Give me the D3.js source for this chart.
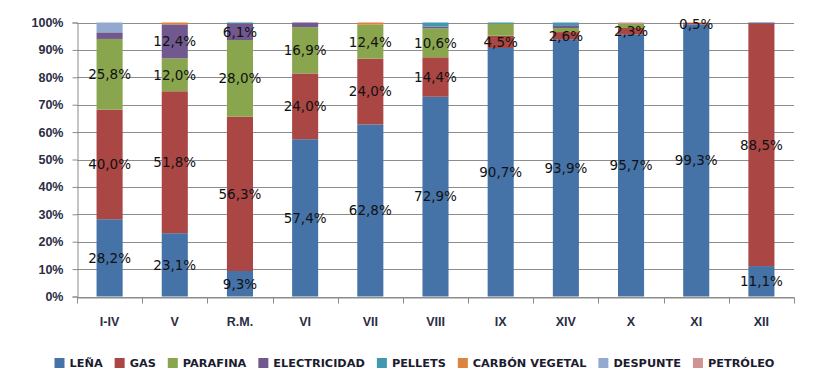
<!DOCTYPE html>
<html>
<head>
<meta charset="utf-8">
<script src="https://cdn.jsdelivr.net/npm/d3@7"></script>
<style>
  body { margin: 0; background: #fff; }
  svg { display: block; }
</style>
</head>
<body>
<div class="canvas"></div>
<script>
// data (percent of households by main heating fuel, per region)
const categories = ['I-IV', 'V', 'R.M.', 'VI', 'VII', 'VIII', 'IX', 'XIV', 'X', 'XI', 'XII'];
const lena         = [28.2, 23.1, 9.3, 57.4, 62.8, 72.9, 90.7, 93.9, 95.7, 99.3, 11.1];
const gas          = [40.0, 51.8, 56.3, 24.0, 24.0, 14.4, 4.5, 2.6, 2.3, 0.5, 88.5];
const parafina     = [25.8, 12.0, 28.0, 16.9, 12.4, 10.6, 4.4, 1.5, 1.5, 0, 0];
const electricidad = [2.4, 12.4, 6.1, 1.7, 0, 0.6, 0, 1.0, 0, 0, 0.4];
const pellets      = [0, 0, 0.3, 0, 0, 1.5, 0.4, 1.0, 0, 0, 0];
const carbon       = [0, 0.7, 0, 0, 0.8, 0, 0, 0, 0, 0.2, 0];
const despunte     = [3.6, 0, 0, 0, 0, 0, 0, 0, 0, 0, 0];
const petroleo     = [0, 0, 0, 0, 0, 0, 0, 0, 0.5, 0, 0];

const seriesNames = ['LEÑA', 'GAS', 'PARAFINA', 'ELECTRICIDAD', 'PELLETS', 'CARBÓN VEGETAL', 'DESPUNTE', 'PETRÓLEO'];
const seriesValues = [lena, gas, parafina, electricidad, pellets, carbon, despunte, petroleo];
const yTicks = [0, 10, 20, 30, 40, 50, 60, 70, 80, 90, 100];

const colors = ['#4572A7', '#AA4643', '#89A54E', '#71588F', '#4198AF', '#DB843D', '#93A9CF', '#D19392'];

const width = 822, height = 383;
const plot = {left: 77, right: 794, top: 22.5, bottom: 296.5};

const svg = d3.select('.canvas')
    .append('svg')
    .attr('width', width)
    .attr('height', height);

// rows for the stack
const rows = categories.map((c, i) => {
    const row = {cat: c};
    seriesNames.forEach((s, j) => row[s] = seriesValues[j][i]);
    return row;
});

const stack = d3.stack().keys(seriesNames);
const stacked = stack(rows);

const x = d3.scaleBand()
    .domain(categories)
    .range([plot.left, plot.right])
    .paddingInner(0.6)
    .paddingOuter(0.3);

const y = d3.scaleLinear()
    .domain([0, 100])
    .range([plot.bottom, plot.top]);

// gridlines
svg.append('g')
    .selectAll('line')
    .data(yTicks)
    .enter().append('line')
    .attr('x1', plot.left)
    .attr('x2', plot.right)
    .attr('y1', d => Math.round(y(d)) + 0.5)
    .attr('y2', d => Math.round(y(d)) + 0.5)
    .attr('stroke', '#8c8c8c')
    .attr('stroke-width', 1);

// bars
const groups = svg.append('g')
    .selectAll('g')
    .data(stacked)
    .enter().append('g')
    .attr('fill', (d, i) => colors[i]);

groups.selectAll('rect')
    .data(d => d)
    .enter().append('rect')
    .attr('x', d => x(d.data.cat))
    .attr('width', x.bandwidth())
    .attr('y', d => y(d[1]))
    .attr('height', d => Math.max(0, y(d[0]) - y(d[1])));

// y axis
const yAxis = d3.axisLeft(y)
    .tickValues(yTicks)
    .tickSize(5)
    .tickFormat(d => d + '%');

const yg = svg.append('g')
    .attr('transform', `translate(${plot.left + 0.5},0)`)
    .call(yAxis);

// x axis
const xAxis = d3.axisBottom(x).tickSize(0).tickPadding(20);
const xg = svg.append('g')
    .attr('transform', `translate(0,${Math.round(plot.bottom) + 0.5})`)
    .call(xAxis);

// category separator ticks
xg.selectAll('.sep')
    .data(d3.range(categories.length + 1))
    .enter().append('line')
    .attr('class', 'sep')
    .attr('x1', i => Math.round(plot.left + i * (plot.right - plot.left) / categories.length) + 0.5)
    .attr('x2', i => Math.round(plot.left + i * (plot.right - plot.left) / categories.length) + 0.5)
    .attr('y1', 0)
    .attr('y2', 6)
    .attr('stroke', '#8c8c8c');

[yg, xg].forEach(g => {
    g.select('.domain').attr('stroke', '#8c8c8c');
    g.selectAll('.tick line').attr('stroke', '#8c8c8c');
    g.selectAll('text')
        .attr('fill', '#2a2d45')
        .style('font-family', '"Liberation Sans", Arial, sans-serif')
        .style('font-weight', 'bold')
        .style('font-size', '12.5px');
});
yg.selectAll('text').attr('x', -14);

// data labels: leña and gas always, parafina/electricidad when large enough
const fmt = v => v.toFixed(1).replace('.', ',') + '%';
const labelled = ['LEÑA', 'GAS', 'PARAFINA', 'ELECTRICIDAD'];

stacked.filter(s => labelled.includes(s.key)).forEach(s => {
    svg.append('g')
        .selectAll('text')
        .data(s.filter(d => {
            const v = d[1] - d[0];
            if (s.key === 'LEÑA' || s.key === 'GAS') return v > 0;
            return v >= 5;
        }))
        .enter().append('text')
        .attr('x', d => x(d.data.cat) + x.bandwidth() / 2)
        .attr('y', d => y((d[0] + d[1]) / 2))
        .attr('dy', '0.36em')
        .attr('text-anchor', 'middle')
        .style('font-family', '"DejaVu Sans", sans-serif')
        .style('font-size', '13.5px')
        .attr('fill', '#111')
        .text(d => fmt(d[1] - d[0]));
});

// legend
const legend = svg.append('g');
let lx = 0;
seriesNames.forEach((name, i) => {
    const item = legend.append('g').attr('transform', `translate(${lx},0)`);
    item.append('rect')
        .attr('x', 0)
        .attr('y', -5)
        .attr('width', 10)
        .attr('height', 10)
        .attr('fill', colors[i]);
    const t = item.append('text')
        .attr('x', 15)
        .attr('y', 0)
        .attr('dy', '0.36em')
        .style('font-family', '"DejaVu Sans", sans-serif')
        .style('font-weight', 'bold')
        .style('font-size', '11.3px')
        .attr('fill', '#1c1c30')
        .text(name);
    lx += 15 + t.node().getComputedTextLength() + 12;
});
lx -= 12;
legend.attr('transform', `translate(${(57 + 772) / 2 - lx / 2},363)`);
</script>
</body>
</html>
